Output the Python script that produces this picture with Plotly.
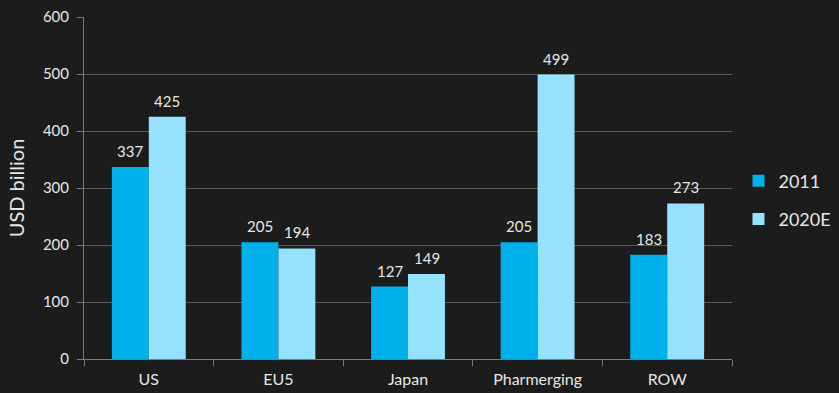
import plotly.graph_objects as go

categories = ["US", "EU5", "Japan", "Pharmerging", "ROW"]
values_2011 = [337, 205, 127, 205, 183]
values_2020e = [425, 194, 149, 499, 273]
series_names = ["2011", "2020E"]
y_ticks = [0, 100, 200, 300, 400, 500, 600]

BG = "#1c1c1c"
TEXT = "#e6e6e6"
GRID = "#5a5a5a"
FONT = "Lato, 'Open Sans', sans-serif"

series = [
    (series_names[0], values_2011, "#00b0ea", -18.5),
    (series_names[1], values_2020e, "#95e3ff", 18.5),
]

fig = go.Figure()
for name, vals, color, _ in series:
    fig.add_trace(go.Bar(
        x=categories, y=vals, name=name, legendgroup=name,
        marker=dict(color=color, line=dict(width=0)),
    ))

# Value labels above each bar, offset to the bar's slot in its group
for name, vals, color, dx in series:
    for cat, v in zip(categories, vals):
        fig.add_annotation(
            x=cat, y=v, text=str(v), showarrow=False,
            xshift=dx, yanchor="bottom", yshift=5,
            font=dict(color=TEXT, size=15, family=FONT),
        )

fig.update_layout(
    width=839, height=393,
    paper_bgcolor=BG, plot_bgcolor=BG,
    margin=dict(l=84, r=107, t=17, b=34, autoexpand=False),
    barmode="group", bargap=0.43, bargroupgap=0,
    font=dict(family=FONT, color=TEXT, size=14),
    legend=dict(
        x=1.01, xanchor="left", y=0.465, yanchor="middle",
        font=dict(size=18, color=TEXT), traceorder="grouped",
        tracegroupgap=12, bgcolor="rgba(0,0,0,0)",
    ),
    xaxis=dict(
        showgrid=False, showline=True, linecolor="#7a7a7a", linewidth=1,
        ticks="outside", tickson="boundaries", ticklen=6, tickcolor="#7a7a7a",
        tickfont=dict(size=16, color=TEXT), ticklabelstandoff=6,
    ),
    yaxis=dict(
        range=[0, 600], tickvals=y_ticks, showgrid=True, gridcolor=GRID,
        gridwidth=1, showline=True, linecolor="#7a7a7a", zeroline=False,
        ticks="outside", ticklen=6, tickcolor="#7a7a7a",
        tickfont=dict(size=15, color=TEXT), ticklabelstandoff=5,
        title=dict(text="USD billion", font=dict(size=20, color=TEXT), standoff=12),
    ),
)

fig.write_html("out.html")
